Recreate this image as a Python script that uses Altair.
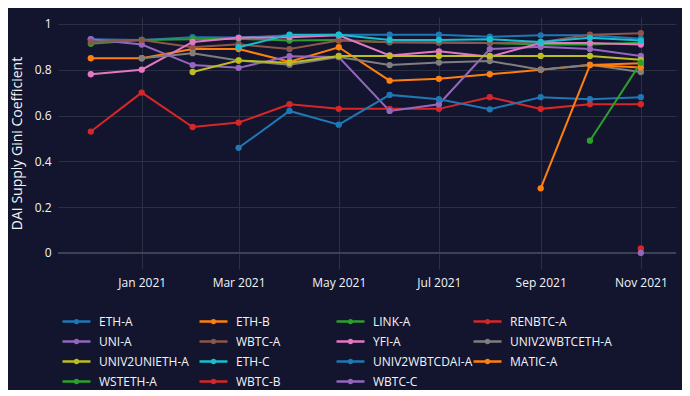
import altair as alt
import pandas as pd

months = ["2020-12-01", "2021-01-01", "2021-02-01", "2021-03-01", "2021-04-01", "2021-05-01",
          "2021-06-01", "2021-07-01", "2021-08-01", "2021-09-01", "2021-10-01", "2021-11-01"]

series_names = ["ETH-A", "ETH-B", "LINK-A", "RENBTC-A", "UNI-A", "WBTC-A", "YFI-A",
                "UNIV2WBTCETH-A", "UNIV2UNIETH-A", "ETH-C", "UNIV2WBTCDAI-A", "MATIC-A",
                "WSTETH-A", "WBTC-B", "WBTC-C"]
series_colors = ["#1f77b4", "#ff7f0e", "#2ca02c", "#d62728", "#9467bd", "#8c564b", "#e377c2",
                 "#7f7f7f", "#bcbd22", "#17becf", "#1f77b4", "#ff7f0e", "#2ca02c", "#d62728", "#9467bd"]

N = None
eth_a = [0.933, 0.93, 0.942, 0.94, 0.95, 0.953, 0.953, 0.953, 0.944, 0.95, 0.95, 0.935]
eth_b = [0.85, 0.85, 0.89, 0.89, 0.835, 0.898, 0.752, 0.76, 0.78, 0.80, 0.82, 0.828]
link_a = [0.913, 0.93, 0.933, 0.935, 0.927, 0.93, 0.92, 0.92, 0.916, 0.91, 0.91, 0.918]
renbtc_a = [0.53, 0.70, 0.55, 0.569, 0.649, 0.629, 0.629, 0.629, 0.68, 0.629, 0.649, 0.649]
uni_a = [0.933, 0.91, 0.82, 0.808, 0.859, 0.855, 0.62, 0.649, 0.89, 0.90, 0.89, 0.86]
wbtc_a = [0.921, 0.93, 0.898, 0.911, 0.89, 0.927, 0.92, 0.918, 0.916, 0.92, 0.953, 0.959]
yfi_a = [0.78, 0.80, 0.921, 0.939, 0.942, 0.95, 0.862, 0.88, 0.857, 0.916, 0.916, 0.91]
univ2wbtceth_a = [N, 0.85, 0.872, 0.84, 0.822, 0.855, 0.82, 0.831, 0.838, 0.80, 0.822, 0.79]
univ2unieth_a = [N, N, 0.79, 0.84, 0.83, 0.86, 0.86, 0.86, 0.86, 0.86, 0.86, 0.843]
eth_c = [N, N, N, 0.898, 0.953, 0.953, 0.93, 0.93, 0.933, 0.921, 0.939, 0.927]
univ2wbtcdai_a = [N, N, N, 0.459, 0.62, 0.56, 0.69, 0.671, 0.627, 0.68, 0.671, 0.68]
matic_a = [N, N, N, N, N, N, N, N, N, 0.282, 0.82, 0.81]
wsteth_a = [N, N, N, N, N, N, N, N, N, N, 0.49, 0.831]
wbtc_b = [N, N, N, N, N, N, N, N, N, N, N, 0.02]
wbtc_c = [N, N, N, N, N, N, N, N, N, N, N, 0.0]

all_values = [eth_a, eth_b, link_a, renbtc_a, uni_a, wbtc_a, yfi_a, univ2wbtceth_a,
              univ2unieth_a, eth_c, univ2wbtcdai_a, matic_a, wsteth_a, wbtc_b, wbtc_c]

rows = []
for name, vals in zip(series_names, all_values):
    for m, v in zip(months, vals):
        if v is not None:
            rows.append({"date": m, "ilk": name, "gini": v})
df = pd.DataFrame(rows)

BG = "#13142e"
GRID = "#2a3142"
TXT = "#f2f5fa"
FONT = "Open Sans"

tick_dates = [alt.DateTime(year=2021, month=m, date=1, utc=True) for m in [1, 3, 5, 7, 9, 11]]

legend_symbol = "M-2,0H2M-0.2,0a0.2,0.2 0 1,0 0.4,0a0.2,0.2 0 1,0 -0.4,0"

x = alt.X("date:T", title=None,
          scale=alt.Scale(type="utc",
                          domain=[alt.DateTime(year=2020, month=11, date=11, utc=True),
                                  alt.DateTime(year=2021, month=11, date=22, hours=10, utc=True)]),
          axis=alt.Axis(values=tick_dates, labelExpr="utcFormat(datum.value, '%b %Y')",
                        grid=True, gridColor=GRID, domain=False, ticks=False, labelPadding=8,
                        labelColor=TXT, labelFont=FONT, labelFontSize=12))
y = alt.Y("gini:Q", title="DAI Supply Gini Coefficient",
          scale=alt.Scale(domain=[-0.07, 1.03], nice=False, zero=False),
          axis=alt.Axis(values=[0, 0.2, 0.4, 0.6, 0.8, 1], format="~g", grid=True,
                        gridColor=GRID, domain=False, ticks=False, labelPadding=7,
                        labelColor=TXT, labelFont=FONT, labelFontSize=12,
                        titleColor=TXT, titleFont=FONT, titleFontSize=14,
                        titleFontWeight="normal", titlePadding=10))
color = alt.Color("ilk:N", title=None,
                  scale=alt.Scale(domain=series_names, range=series_colors),
                  sort=series_names,
                  legend=alt.Legend(orient="none", legendX=10, legendY=296, columns=4,
                                    direction="horizontal", gridAlign="all",
                                    columnPadding=-7, rowPadding=5,
                                    symbolType=legend_symbol, symbolSize=196,
                                    symbolStrokeWidth=2.5, labelOffset=14,
                                    labelColor=TXT, labelFont=FONT, labelFontSize=12,
                                    labelLimit=200))

zero = alt.Chart(df).mark_rule(color="#3a4254", strokeWidth=2).encode(y=alt.datum(0))

lines = alt.Chart(df).mark_line(
    strokeWidth=2,
    point=alt.OverlayMarkDef(filled=True, size=40, opacity=1)
).encode(x=x, y=y, color=color, order=alt.Order("date:T"))

chart = alt.layer(zero, lines).properties(
    width=618, height=252,
    background=BG,
    padding={"left": 50, "top": 9, "right": 6, "bottom": 121},
    autosize=alt.AutoSizeParams(type="none"),
).configure_view(stroke=None)

chart.save("out.html", embed_options={"renderer": "svg", "actions": False})
